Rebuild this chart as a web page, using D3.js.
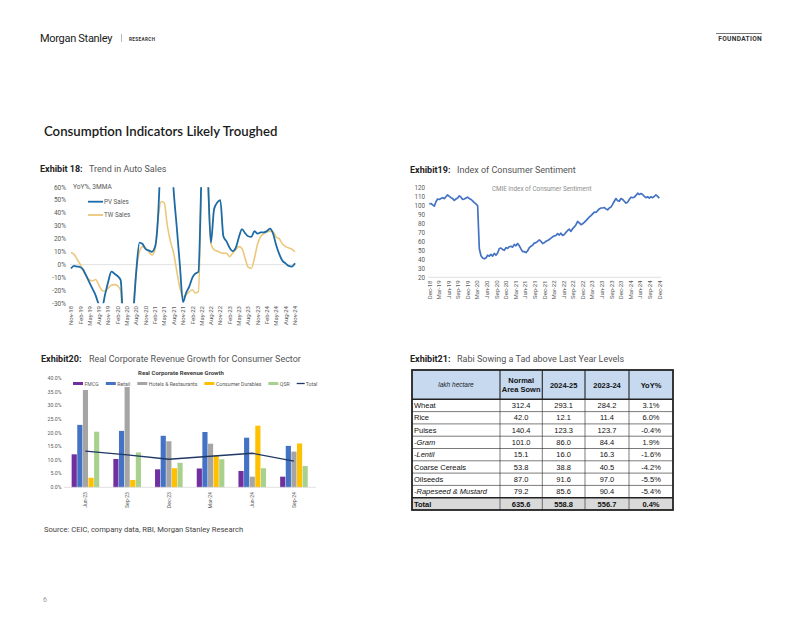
<!DOCTYPE html>
<meta charset="utf-8">
<style>
body { margin: 0; background: #fff; }
svg { display: block; font-family: Roboto, "Liberation Sans", Arial, sans-serif; }
</style>
<svg width="802" height="620"></svg>
<script src="https://d3js.org/d3.v7.min.js"></script>
<script>

// ---- data: Exhibit 18 (YoY %, 3MMA, monthly Nov-18 .. Nov-24)
var pvSales = [
  -3, -1, -1.5, -2, -4, -9, -14, -19, -24, -31, -33, -23,
  -13, -5.5, -7, -9, -12, -60, -85, -70, -40, -5, 17, 16,
  12, 11, 10, 14, 36, 100, 200, 150, 100, 58, 29, 0,
  -29, -22, -17, -10, -7, -5.5, 68, 110, 71, 17, 43, 48,
  50, 22, 18, 13, 10.5, 13, 21, 27.5, 24.5, 22, 21.5, 26,
  24, 25, 25, 26, 28, 24, 15, 8, 3, 1, -1, -1.5,
  1
];
var twSales = [
  9.5, 8, 4, 0, -5, -9, -12, -12.5, -11.5, -16, -20, -20.5,
  -18, -16, -15.5, -16.5, -20, -70, -85, -60, -35, -5, 10, 14,
  13, 10, 7.5, 12, 35, 49, 48, 30, 18, 9, -5, -18,
  -25, -23.5, -21, -19.5, -22, -21, 70, 150, 72, 16.5, 11.5, 10.5,
  9.5, 8.8, 8.8, 6.2, 8.8, 11.5, 14, 12.5, 5, -2, -2.8, 5,
  16, 21.7, 24, 25.5, 26, 25.5, 21.5, 20, 16, 14, 13, 12,
  10
];
var autoTicks = [60, 50, 40, 30, 20, 10, 0, -10, -20, -30];

// ---- data: Exhibit 19 (CMIE index, Dec-18 .. Dec-24, read every ~2 weeks)
var sentiment = [
  101.5, 102, 100.5, 99, 104, 107, 106.5, 107.5, 108.5, 107.5,
  109.5, 111.5, 110, 108.5, 107.5, 105.5, 107, 108, 110.5, 109,
  106.5, 107, 108, 109, 107.5, 106.5, 105, 103, 101.5, 99.5,
  52, 44, 41.5, 40.5, 41.5, 44.5, 43.5, 45.5, 43.5, 46.5,
  44.5, 47, 52, 52.5, 51, 50, 53, 52, 54, 54.5,
  53.5, 56.5, 55, 57.5, 55, 51.5, 48.5, 48.5, 47.5, 49.5,
  53, 54.5, 55.5, 58, 58.5, 60, 61.5, 60, 57.5, 58.5,
  60, 61, 62, 63.5, 65, 66, 66.5, 68.5, 67, 69,
  66.5, 67.5, 70, 72, 73.5, 71, 74, 76, 78.5, 82,
  80.5, 78.5, 79.5, 81, 83, 85, 87, 88.5, 90.5, 92.5,
  92, 94, 96, 97, 97, 97.5, 96, 95, 97, 98,
  101, 104.5, 107.5, 105, 104.5, 107.5, 106.5, 104.5, 102.5, 103.5,
  106.5, 109, 108.5, 109, 111, 113.5, 112, 113, 112, 110,
  108.5, 109.5, 108, 109.5, 108.5, 110, 111.5, 110, 108
];

// ---- data: Exhibit 20 (real revenue growth, %)
var quarters = ["Jun-23", "Sep-23", "Dec-23", "Mar-24", "Jun-24", "Sep-24"];
var fmcg = [12.1, 10.4, 6.6, 6.9, 6.0, 3.9];
var retail = [22.9, 20.7, 18.9, 20.3, 18.2, 15.2];
var hotels = [35.7, 36.8, 16.9, 16.0, 3.9, 13.1];
var durables = [3.5, 2.7, 7.0, 11.8, 22.6, 16.1];
var qsr = [20.4, 12.8, 9.0, 10.3, 7.0, 7.8];
var totalGrowth = [13.3, 11.9, 10.3, 11.4, 12.5, 9.6];
var sectorNames = ["FMCG", "Retail", "Hotels & Restaurants", "Consumer Durables", "QSR"];
var sectorColors = ["#7030a0", "#4472c4", "#a5a5a5", "#ffc000", "#a9d18e"];

// ---- data: Exhibit 21 (lakh hectare)
var crops = ["Wheat", "Rice", "Pulses", "-Gram", "-Lentil", "Coarse Cereals", "Oilseeds", "-Rapeseed & Mustard", "Total"];
var normalArea = [312.4, 42.0, 140.4, 101.0, 15.1, 53.8, 87.0, 79.2, 635.6];
var sown2425 = [293.1, 12.1, 123.3, 86.0, 16.0, 38.8, 91.6, 85.6, 558.8];
var sown2324 = [284.2, 11.4, 123.7, 84.4, 16.3, 40.5, 97.0, 90.4, 556.7];
var yoy = [3.1, 6.0, -0.4, 1.9, -1.6, -4.2, -5.5, -5.4, 0.4];

var svg = d3.select("svg");
var axisGrey = "#595959";
var fmtMon = d3.timeFormat("%b-%y");

svg.append("rect").attr("width", 802).attr("height", 620).attr("fill", "#fff");

// header
svg.append("text").attr("x", 40).attr("y", 42)
   .attr("font-size", 11).attr("letter-spacing", -0.3).attr("fill", "#1a1a1a")
   .text("Morgan Stanley");
svg.append("line").attr("x1", 121.5).attr("x2", 121.5).attr("y1", 34).attr("y2", 42)
   .attr("stroke", "#999").attr("stroke-width", 0.7);
svg.append("text").attr("x", 129).attr("y", 40.5)
   .attr("font-size", 4.6).attr("font-weight", 700).attr("letter-spacing", 0.4).attr("fill", "#333")
   .text("RESEARCH");
svg.append("line").attr("x1", 716).attr("x2", 762).attr("y1", 33.5).attr("y2", 33.5)
   .attr("stroke", "#777").attr("stroke-width", 1.2);
svg.append("text").attr("x", 762).attr("y", 41).attr("text-anchor", "end")
   .attr("font-size", 6.6).attr("font-weight", 700).attr("letter-spacing", 0.3).attr("fill", "#333")
   .text("FOUNDATION");

svg.append("text").attr("x", 44).attr("y", 135.5)
   .attr("font-family", "Lato").attr("font-size", 13.2).attr("font-weight", 600).attr("fill", "#1a1a1a")
   .text("Consumption Indicators Likely Troughed");

function exhibitTitle(x, y, lead, rest, gap) {
  svg.append("text").attr("x", x).attr("y", y)
     .attr("font-size", 9).attr("font-weight", 700).attr("fill", "#222").text(lead);
  svg.append("text").attr("x", x + gap).attr("y", y)
     .attr("font-size", 9).attr("fill", "#555").text(rest);
}
exhibitTitle(40, 172, "Exhibit 18:", "Trend in Auto Sales", 49);
exhibitTitle(410, 172.5, "Exhibit19:", "Index of Consumer Sentiment", 47);
exhibitTitle(41, 361.5, "Exhibit20:", "Real Corporate Revenue Growth for Consumer Sector", 48);
exhibitTitle(410, 362, "Exhibit21:", "Rabi Sowing a Tad above Last Year Levels", 47);

// ---------------- Exhibit 18 ----------------
var autoDates = d3.timeMonth.range(new Date(2018, 10, 1), new Date(2024, 11, 1));
var xa = d3.scaleTime().domain([autoDates[0], autoDates[autoDates.length - 1]]).range([71, 295]);
var ya = d3.scaleLinear().domain([-30, 60]).range([303.3, 187.3]);

svg.append("clipPath").attr("id", "autoClip")
   .append("rect").attr("x", 60).attr("y", ya(60)).attr("width", 250).attr("height", ya(-30) - ya(60));

svg.append("line").attr("x1", 70).attr("x2", 296).attr("y1", ya(0)).attr("y2", ya(0))
   .attr("stroke", "#d9d9d9").attr("stroke-width", 0.8);

svg.append("g").selectAll("text").data(autoTicks).join("text")
   .attr("x", 66).attr("y", function(d) { return ya(d) + 2.3; })
   .attr("text-anchor", "end").attr("font-size", 6.5).attr("fill", axisGrey)
   .text(function(d) { return d + "%"; });

svg.append("g").selectAll("text").data(autoDates.filter(function(d, i) { return i % 3 === 0; })).join("text")
   .attr("transform", function(d) { return "translate(" + (xa(d) + 2.2) + ",306) rotate(-90)"; })
   .attr("text-anchor", "end").attr("font-size", 6).attr("fill", axisGrey)
   .text(fmtMon);

var autoLine = d3.line().curve(d3.curveMonotoneX)
   .x(function(d, i) { return xa(autoDates[i]); })
   .y(function(d) { return ya(d); });

var autoG = svg.append("g").attr("clip-path", "url(#autoClip)");
autoG.append("path").datum(twSales).attr("d", autoLine)
   .attr("fill", "none").attr("stroke", "#ecc77a").attr("stroke-width", 1.6);
autoG.append("path").datum(pvSales).attr("d", autoLine)
   .attr("fill", "none").attr("stroke", "#1c6aa6").attr("stroke-width", 1.8);

svg.append("text").attr("x", 73).attr("y", 189).attr("font-size", 6.6).attr("fill", axisGrey).text("YoY%, 3MMA");
[["PV Sales", "#1c6aa6", 201.7], ["TW Sales", "#ecc77a", 215]].forEach(function(l) {
  svg.append("line").attr("x1", 88).attr("x2", 103).attr("y1", l[2]).attr("y2", l[2])
     .attr("stroke", l[1]).attr("stroke-width", 1.8);
  svg.append("text").attr("x", 104).attr("y", l[2] + 2.2).attr("font-size", 6.3).attr("fill", axisGrey).text(l[0]);
});

// ---------------- Exhibit 19 ----------------
var sentDates = d3.timeMonth.range(new Date(2018, 11, 1), new Date(2025, 0, 1));
var xs = d3.scaleTime().domain([sentDates[0], sentDates[sentDates.length - 1]]).range([429.3, 659.3]);
var xsi = d3.scaleLinear().domain([0, sentiment.length - 1]).range([429.3, 659.3]);
var ys = d3.scaleLinear().domain([20, 120]).range([277.3, 187.3]);

svg.append("line").attr("x1", 428).attr("x2", 661).attr("y1", ys(20)).attr("y2", ys(20))
   .attr("stroke", "#d9d9d9").attr("stroke-width", 0.8);

svg.append("g").selectAll("text").data(d3.range(20, 121, 10)).join("text")
   .attr("x", 425).attr("y", function(d) { return ys(d) + 2.2; })
   .attr("text-anchor", "end").attr("font-size", 6.3).attr("fill", axisGrey)
   .text(function(d) { return d; });

svg.append("g").selectAll("text").data(sentDates.filter(function(d, i) { return i % 3 === 0; })).join("text")
   .attr("transform", function(d) { return "translate(" + (xs(d) + 2.2) + ",280.5) rotate(-90)"; })
   .attr("text-anchor", "end").attr("font-size", 6).attr("fill", axisGrey)
   .text(fmtMon);

svg.append("path").datum(sentiment)
   .attr("d", d3.line().x(function(d, i) { return xsi(i); }).y(function(d) { return ys(d); }))
   .attr("fill", "none").attr("stroke", "#4472c4").attr("stroke-width", 1.7).attr("stroke-linejoin", "round");

svg.append("text").attr("x", 541.7).attr("y", 190.5).attr("text-anchor", "middle")
   .attr("font-size", 6.3).attr("fill", "#8c8c8c").text("CMIE Index of Consumer Sentiment");

// ---------------- Exhibit 20 ----------------
var series = [fmcg, retail, hotels, durables, qsr];
var xb = d3.scaleBand().domain(quarters).range([64.6, 314.8]);
var xsub = d3.scaleBand().domain(d3.range(series.length)).range([0, 27.6]).paddingInner(0.08);
var yb = d3.scaleLinear().domain([0, 40]).range([487.3, 378.3]);
var pct = d3.format(".1%");

svg.append("g").selectAll("text").data(d3.range(0, 41, 5)).join("text")
   .attr("x", 61.5).attr("y", function(d) { return yb(d) + 1.8; })
   .attr("text-anchor", "end").attr("font-size", 5.2).attr("fill", axisGrey)
   .text(function(d) { return pct(d / 100); });

var groupOffset = (xb.bandwidth() - 27.6) / 2;
series.forEach(function(s, k) {
  svg.append("g").selectAll("rect").data(s).join("rect")
     .attr("x", function(d, i) { return xb(quarters[i]) + groupOffset + xsub(k); })
     .attr("width", xsub.bandwidth())
     .attr("y", function(d) { return yb(d); })
     .attr("height", function(d) { return yb(0) - yb(d); })
     .attr("fill", sectorColors[k]);
});

svg.append("line").attr("x1", 64).attr("x2", 316).attr("y1", yb(0)).attr("y2", yb(0))
   .attr("stroke", "#d9d9d9").attr("stroke-width", 0.8);

svg.append("path").datum(totalGrowth)
   .attr("d", d3.line().x(function(d, i) { return xb(quarters[i]) + xb.bandwidth() / 2; }).y(function(d) { return yb(d); }))
   .attr("fill", "none").attr("stroke", "#203864").attr("stroke-width", 1.3);

svg.append("g").selectAll("text").data(quarters).join("text")
   .attr("transform", function(d) { return "translate(" + (xb(d) + xb.bandwidth() / 2 + 1.8) + ",492) rotate(-90)"; })
   .attr("text-anchor", "end").attr("font-size", 5.2).attr("fill", axisGrey)
   .text(function(d) { return d; });

svg.append("text").attr("x", 181).attr("y", 375).attr("text-anchor", "middle")
   .attr("font-size", 6).attr("font-weight", 700).attr("fill", "#404040").text("Real Corporate Revenue Growth");

var lx = 73;
sectorNames.concat(["Total"]).forEach(function(name, k) {
  if (k < sectorNames.length) {
    svg.append("rect").attr("x", lx).attr("y", 382).attr("width", 10).attr("height", 3).attr("fill", sectorColors[k]);
    lx += 11.5;
  } else {
    svg.append("line").attr("x1", lx).attr("x2", lx + 8).attr("y1", 383.5).attr("y2", 383.5)
       .attr("stroke", "#203864").attr("stroke-width", 1.3);
    lx += 9;
  }
  var t = svg.append("text").attr("x", lx).attr("y", 385.5).attr("font-size", 5.2).attr("fill", axisGrey).text(name);
  lx += t.node().getComputedTextLength() + 7;
});

// ---------------- Exhibit 21 ----------------
var colX = [412, 500, 542.3, 585, 629, 673];
var tTop = 370, headBot = 399.3, tBot = 510;
var yr = d3.scaleBand().domain(crops).range([headBot, tBot]);
var tg = svg.append("g").attr("font-family", "'Liberation Sans', Arial, sans-serif");

tg.append("rect").attr("x", colX[0]).attr("y", tTop).attr("width", colX[5] - colX[0]).attr("height", headBot - tTop)
  .attr("fill", "#c6d9ef");
tg.append("rect").attr("x", colX[0]).attr("y", yr("Total")).attr("width", colX[5] - colX[0]).attr("height", yr.bandwidth())
  .attr("fill", "#d9d9d9");

crops.forEach(function(c, i) {
  if (i > 0) {
    tg.append("line").attr("x1", colX[0]).attr("x2", colX[5]).attr("y1", yr(c)).attr("y2", yr(c))
      .attr("stroke", "#222").attr("stroke-width", c === "Total" ? 1.4 : 0.6);
  }
});
colX.slice(1, 5).forEach(function(x) {
  tg.append("line").attr("x1", x).attr("x2", x).attr("y1", tTop).attr("y2", headBot)
    .attr("stroke", "#222").attr("stroke-width", 1.1);
  tg.append("line").attr("x1", x).attr("x2", x).attr("y1", headBot).attr("y2", tBot)
    .attr("stroke", "#222").attr("stroke-width", 0.6);
});
tg.append("line").attr("x1", colX[0]).attr("x2", colX[5]).attr("y1", headBot).attr("y2", headBot)
  .attr("stroke", "#222").attr("stroke-width", 1.4);
tg.append("rect").attr("x", colX[0]).attr("y", tTop).attr("width", colX[5] - colX[0]).attr("height", tBot - tTop)
  .attr("fill", "none").attr("stroke", "#222").attr("stroke-width", 1.8);

function mid(i) { return (colX[i] + colX[i + 1]) / 2; }
tg.append("text").attr("x", mid(0)).attr("y", 387).attr("text-anchor", "middle")
  .attr("font-size", 6.5).attr("font-style", "italic").attr("fill", "#222").text("lakh hectare");
tg.append("text").attr("x", mid(1)).attr("y", 382.5).attr("text-anchor", "middle")
  .attr("font-size", 7.5).attr("font-weight", 700).attr("fill", "#111").text("Normal");
tg.append("text").attr("x", mid(1)).attr("y", 392).attr("text-anchor", "middle")
  .attr("font-size", 7.5).attr("font-weight", 700).attr("fill", "#111").text("Area Sown");
["2024-25", "2023-24", "YoY%"].forEach(function(h, k) {
  tg.append("text").attr("x", mid(k + 2)).attr("y", 387.5).attr("text-anchor", "middle")
    .attr("font-size", 7.5).attr("font-weight", 700).attr("fill", "#111").text(h);
});

crops.forEach(function(c, i) {
  var yy = yr(c) + yr.bandwidth() / 2 + 2.7;
  var bold = c === "Total" ? 700 : 400;
  tg.append("text").attr("x", 414).attr("y", yy).attr("font-size", 7.5).attr("font-weight", bold)
    .attr("font-style", c.charAt(0) === "-" ? "italic" : "normal").attr("fill", "#111").text(c);
  [normalArea[i].toFixed(1), sown2425[i].toFixed(1), sown2324[i].toFixed(1), yoy[i].toFixed(1) + "%"]
    .forEach(function(v, k) {
      tg.append("text").attr("x", mid(k + 1)).attr("y", yy).attr("text-anchor", "middle")
        .attr("font-size", 7.5).attr("font-weight", bold).attr("fill", "#111").text(v);
    });
});

// footer
svg.append("text").attr("x", 44).attr("y", 531.5).attr("font-size", 7.6).attr("fill", "#444")
   .text("Source: CEIC, company data, RBI, Morgan Stanley Research");
svg.append("text").attr("x", 43).attr("y", 602).attr("font-size", 7).attr("fill", "#999").text("6");

</script>
